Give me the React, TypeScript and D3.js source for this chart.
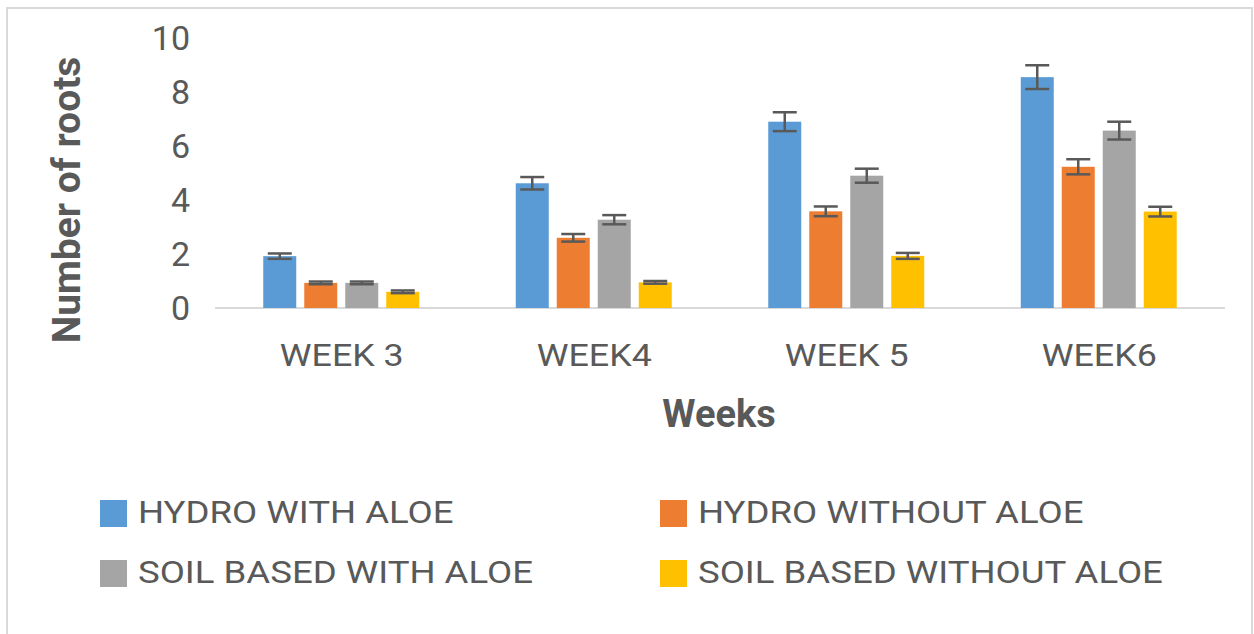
import * as d3 from "d3";

const weeks = ["WEEK 3", "WEEK4", "WEEK 5", "WEEK6"];
const seriesNames = [
  "HYDRO WITH ALOE",
  "HYDRO WITHOUT ALOE",
  "SOIL BASED WITH ALOE",
  "SOIL BASED WITHOUT ALOE",
];
const hydroWith = [1.92, 4.62, 6.9, 8.55];
const hydroWithout = [0.93, 2.6, 3.58, 5.23];
const soilWith = [0.93, 3.27, 4.9, 6.57];
const soilWithout = [0.6, 0.95, 1.93, 3.57];
const hydroWithErr = [0.1, 0.23, 0.35, 0.44];
const hydroWithoutErr = [0.05, 0.14, 0.18, 0.28];
const soilWithErr = [0.05, 0.17, 0.26, 0.33];
const soilWithoutErr = [0.05, 0.05, 0.11, 0.18];
const yTicks = [0, 2, 4, 6, 8, 10];

const colors = ["#5B9BD5", "#ED7D31", "#A5A5A5", "#FFC000"];
const values = [hydroWith, hydroWithout, soilWith, soilWithout];
const errors = [hydroWithErr, hydroWithoutErr, soilWithErr, soilWithoutErr];

const W = 1254;
const H = 634;
const textColor = "#595959";
const font = "Roboto, 'Noto Sans', sans-serif";

export default function App() {
  const x0 = d3.scaleBand().domain(weeks).range([215, 1225]);
  const x1 = d3.scaleBand().domain(seriesNames).range([0, 156]).paddingInner(8 / 41);
  const y = d3.scaleLinear().domain([0, 10]).range([308, 38]);
  const offset = (x0.bandwidth() - 156) / 2;
  const capW = 24;

  return (
    <svg
      width={W}
      height={H}
      style={{ position: "absolute", left: 0, top: 0, background: "#fff" }}
      fontFamily={font}
    >
      <rect x={7} y={8} width={1245} height={640} fill="#fff" stroke="#d9d9d9" strokeWidth={2} />

      {yTicks.map((t) => (
        <text key={t} x={190} y={y(t)} dy="0.36em" textAnchor="end" fontSize={34} fill={textColor}>
          {t}
        </text>
      ))}

      <line x1={215} x2={1225} y1={y(0)} y2={y(0)} stroke="#d9d9d9" strokeWidth={2} />

      {weeks.map((w, i) => (
        <g key={w} transform={`translate(${(x0(w) ?? 0) + offset},0)`}>
          {seriesNames.map((s, j) => {
            const v = values[j][i];
            const e = errors[j][i];
            const bx = x1(s) ?? 0;
            const cx = bx + x1.bandwidth() / 2;
            return (
              <g key={s}>
                <rect x={bx} y={y(v)} width={x1.bandwidth()} height={y(0) - y(v)} fill={colors[j]} />
                <g stroke="#595959" strokeWidth={2.5}>
                  <line x1={cx} x2={cx} y1={y(v + e)} y2={y(v - e)} />
                  <line x1={cx - capW / 2} x2={cx + capW / 2} y1={y(v + e)} y2={y(v + e)} />
                  <line x1={cx - capW / 2} x2={cx + capW / 2} y1={y(v - e)} y2={y(v - e)} />
                </g>
              </g>
            );
          })}
          <text
            transform={`translate(${x0.bandwidth() / 2 - offset + 0.5},366) scale(1.12,1)`}
            textAnchor="middle"
            fontSize={32}
            fill={textColor}
          >
            {w}
          </text>
        </g>
      ))}

      <text x={719} y={427} textAnchor="middle" fontSize={38} fontWeight="bold" fill={textColor}>
        Weeks
      </text>
      <text
        transform="translate(80,200) rotate(-90)"
        textAnchor="middle"
        fontSize={39}
        fontWeight="bold"
        fill={textColor}
      >
        Number of roots
      </text>

      {seriesNames.map((s, j) => {
        const lx = j % 2 === 0 ? 100 : 660;
        const ly = j < 2 ? 500 : 560;
        return (
          <g key={s} transform={`translate(${lx},${ly})`}>
            <rect x={0} y={0} width={27} height={27} fill={colors[j]} />
            <text transform="translate(38,23) scale(1.18,1)" fontSize={31} fill={textColor}>
              {s}
            </text>
          </g>
        );
      })}
    </svg>
  );
}
